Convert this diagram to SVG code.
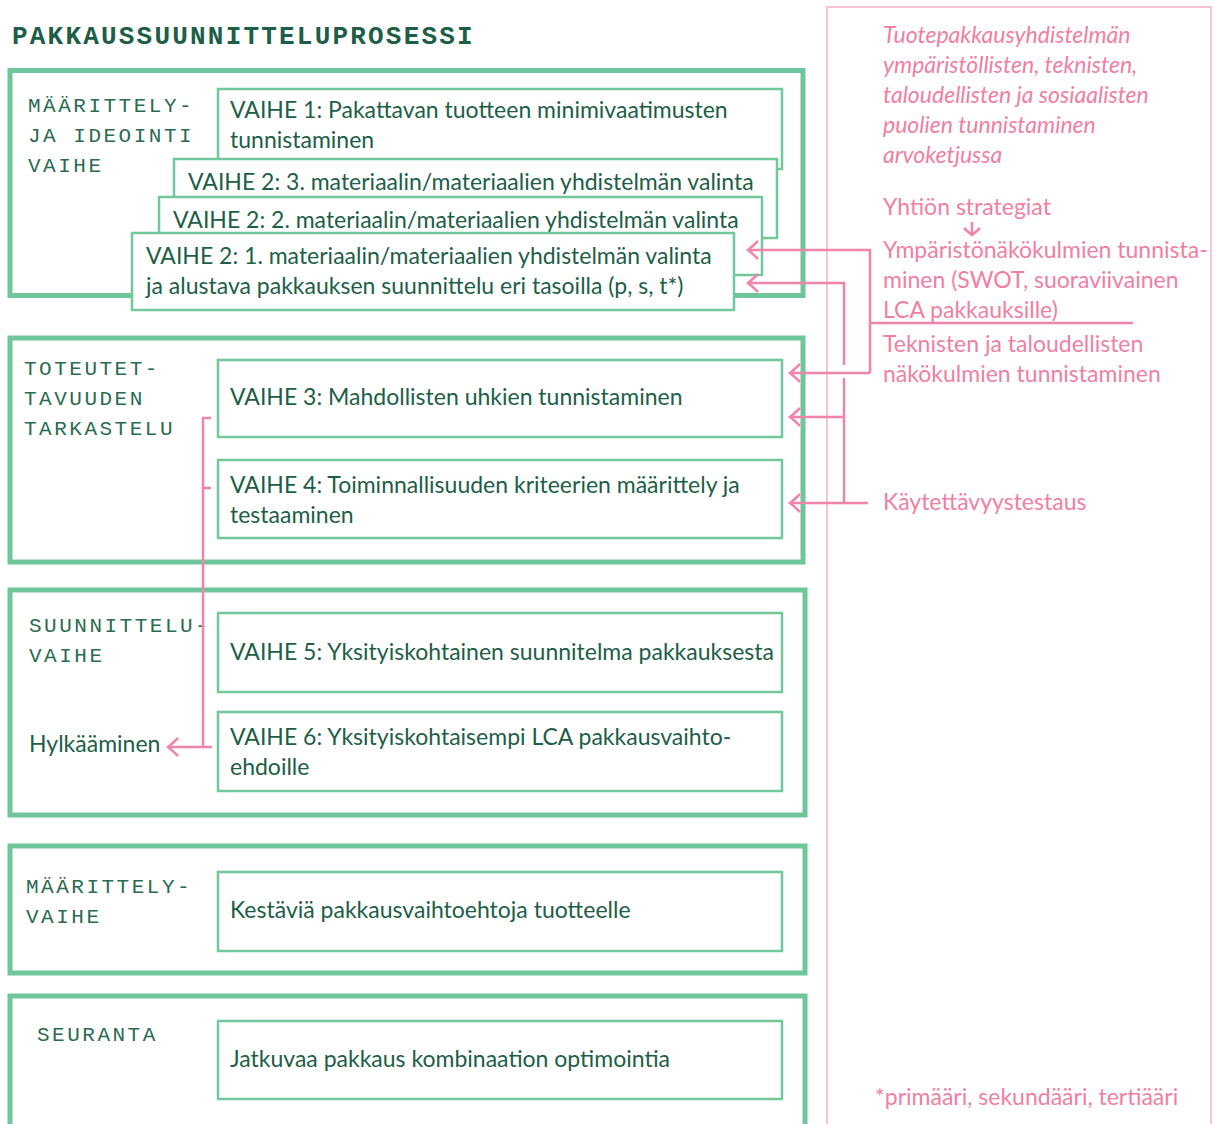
<svg xmlns="http://www.w3.org/2000/svg" width="1215" height="1124" viewBox="0 0 1215 1124">
<style>
.outer{fill:none;stroke:#6fc69b;stroke-width:5}
.inner{fill:#fff;stroke:#72c79d;stroke-width:2.5}
.t{font-family:Lato,"Liberation Sans",sans-serif;font-size:23px;fill:#1d5e47}
.ph{font-family:"Liberation Mono","Courier New",monospace;font-size:21px;letter-spacing:2.5px;fill:#2b6b52}
.title{font-family:"Liberation Mono","Courier New",monospace;font-size:26px;font-weight:bold;letter-spacing:2.2px;fill:#1d5e47}
.pk{font-family:Lato,"Liberation Sans",sans-serif;font-size:23px;fill:#f07fa3}
.it{font-style:italic;font-size:23px}
.con{fill:none;stroke:#f085a8;stroke-width:2.5}
</style>
<defs>
<marker id="arr" markerUnits="userSpaceOnUse" markerWidth="14" markerHeight="22" refX="12" refY="11" orient="auto" overflow="visible">
<path d="M2,2 Q8,8 12,11 Q8,14 2,20" fill="none" stroke="#f085a8" stroke-width="2.5"/>
</marker>
<marker id="arrs" markerUnits="userSpaceOnUse" markerWidth="10" markerHeight="18" refX="8" refY="9" orient="auto" overflow="visible">
<path d="M1,1 Q5,5 8,9 Q5,13 1,17" fill="none" stroke="#f085a8" stroke-width="2.5"/>
</marker>
</defs>

<rect id="panel" x="827" y="7" width="384" height="1130" fill="none" stroke="#f8c3d7" stroke-width="2"/>

<text class="title" x="12" y="44">PAKKAUSSUUNNITTELUPROSESSI</text>

<g id="phase1">
<rect class="outer" x="10" y="70.5" width="793" height="225"/>
<text class="ph" x="28" y="112">MÄÄRITTELY-</text>
<text class="ph" x="28" y="142">JA IDEOINTI</text>
<text class="ph" x="28" y="172">VAIHE</text>
</g>
<g id="vaihe1">
<rect class="inner" x="218" y="89" width="564" height="80"/>
<text class="t" x="230" y="118">VAIHE 1: Pakattavan tuotteen minimivaatimusten</text>
<text class="t" x="230" y="148">tunnistaminen</text>
</g>
<g id="vaihe2-3">
<rect class="inner" x="174" y="159" width="603" height="79"/>
<text class="t" x="188" y="190">VAIHE 2: 3. materiaalin/materiaalien yhdistelmän valinta</text>
</g>
<g id="vaihe2-2">
<rect class="inner" x="159" y="197" width="603" height="78"/>
<text class="t" x="173" y="228">VAIHE 2: 2. materiaalin/materiaalien yhdistelmän valinta</text>
</g>
<g id="vaihe2-1">
<rect class="inner" x="132" y="233" width="602" height="77"/>
<text class="t" x="146" y="264">VAIHE 2: 1. materiaalin/materiaalien yhdistelmän valinta</text>
<text class="t" x="146" y="294">ja alustava pakkauksen suunnittelu eri tasoilla (p, s, t*)</text>
</g>

<g id="phase2">
<rect class="outer" x="10" y="338" width="793" height="224"/>
<text class="ph" x="24" y="375">TOTEUTET-</text>
<text class="ph" x="24" y="405">TAVUUDEN</text>
<text class="ph" x="24" y="435">TARKASTELU</text>
</g>
<g id="vaihe3">
<rect class="inner" x="218" y="360" width="564" height="77"/>
<text class="t" x="230" y="405">VAIHE 3: Mahdollisten uhkien tunnistaminen</text>
</g>
<g id="vaihe4">
<rect class="inner" x="218" y="460" width="564" height="78"/>
<text class="t" x="230" y="493">VAIHE 4: Toiminnallisuuden kriteerien määrittely ja</text>
<text class="t" x="230" y="523">testaaminen</text>
</g>

<g id="phase3">
<rect class="outer" x="10" y="590" width="795" height="225"/>
<text class="ph" x="29" y="632">SUUNNITTELU-</text>
<text class="ph" x="29" y="662">VAIHE</text>
<text class="t" x="29" y="752">Hylkääminen</text>
</g>
<g id="vaihe5">
<rect class="inner" x="218" y="613" width="564" height="79"/>
<text class="t" x="230" y="660">VAIHE 5: Yksityiskohtainen suunnitelma pakkauksesta</text>
</g>
<g id="vaihe6">
<rect class="inner" x="218" y="712" width="564" height="79"/>
<text class="t" x="230" y="745">VAIHE 6: Yksityiskohtaisempi LCA pakkausvaihto-</text>
<text class="t" x="230" y="775">ehdoille</text>
</g>

<g id="phase4">
<rect class="outer" x="10" y="846" width="795" height="127"/>
<text class="ph" x="26" y="893">MÄÄRITTELY-</text>
<text class="ph" x="26" y="923">VAIHE</text>
</g>
<g id="kestavia">
<rect class="inner" x="218" y="872" width="564" height="79"/>
<text class="t" x="230" y="918">Kestäviä pakkausvaihtoehtoja tuotteelle</text>
</g>

<g id="phase5">
<rect class="outer" x="10" y="996" width="795" height="140"/>
<text class="ph" x="37" y="1041">SEURANTA</text>
</g>
<g id="jatkuvaa">
<rect class="inner" x="218" y="1021" width="564" height="78"/>
<text class="t" x="230" y="1067">Jatkuvaa pakkaus kombinaation optimointia</text>
</g>

<g id="side-texts">
<text class="pk it" x="883" y="43">Tuotepakkausyhdistelmän</text>
<text class="pk it" x="883" y="73">ympäristöllisten, teknisten,</text>
<text class="pk it" x="883" y="103">taloudellisten ja sosiaalisten</text>
<text class="pk it" x="883" y="133">puolien tunnistaminen</text>
<text class="pk it" x="883" y="163">arvoketjussa</text>
<text class="pk" x="883" y="215">Yhtiön strategiat</text>
<text class="pk" x="883" y="258">Ympäristönäkökulmien tunnista-</text>
<text class="pk" x="883" y="288">minen (SWOT, suoraviivainen</text>
<text class="pk" x="883" y="318">LCA pakkauksille)</text>
<text class="pk" x="883" y="352">Teknisten ja taloudellisten</text>
<text class="pk" x="883" y="382">näkökulmien tunnistaminen</text>
<text class="pk" x="883" y="510">Käytettävyystestaus</text>
<text class="pk" x="875" y="1105">*primääri, sekundääri, tertiääri</text>
</g>

<g id="connectors">
<path class="con" d="M972,222 V235" marker-end="url(#arrs)"/>
<path class="con" d="M870,373 V250 H748" marker-end="url(#arr)"/>
<path class="con" d="M870,373 H790" marker-end="url(#arr)"/>
<path class="con" d="M870,323 H1133"/>
<path class="con" d="M844,365 V283 H748" marker-end="url(#arr)"/>
<path class="con" d="M844,378 V503"/>
<path class="con" d="M844,417 H790" marker-end="url(#arr)"/>
<path class="con" d="M868,503 H790" marker-end="url(#arr)"/>
<path class="con" d="M211,418 H203 V747"/>
<path class="con" d="M203,488 H211"/>
<path class="con" d="M212,747 H168" marker-end="url(#arr)"/>
</g>
</svg>
